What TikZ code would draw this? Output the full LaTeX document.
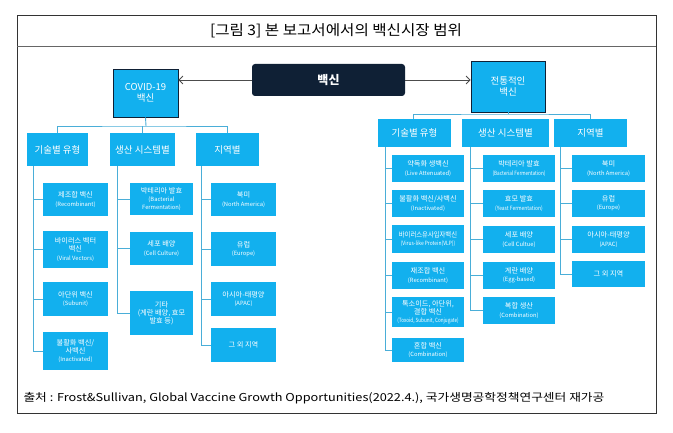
\documentclass[tikz,border=0pt]{standalone}
\usepackage{fontspec}
\setmainfont{Noto Sans CJK KR}
\usetikzlibrary{arrows.meta}
\definecolor{cy}{HTML}{12B0EE}
\definecolor{ln}{HTML}{4AAED8}
\definecolor{navy}{HTML}{0F2035}
\tikzset{
  bx/.style={fill=cy,text=white,align=center,inner sep=0pt,font=\fontsize{7.2}{8.2}\selectfont},
  cat/.style={bx,font=\fontsize{9.5}{11}\selectfont},
  con/.style={draw=ln,line width=0.9pt}
}
\newcommand{\en}[1]{{\fontsize{5.8}{7}\selectfont #1}}
\newcommand{\bxx}[7]{\node[#6,minimum width={(#4-#2)*1pt},minimum height={(#5-#3)*1pt}] (#1) at ({(#2+#4)/2},{(#3+#5)/2}) {#7};}
\begin{document}
\begin{tikzpicture}[x=1pt,y=-1pt]
\useasboundingbox (0,0) rectangle (673,433);
\fill[white] (0,0) rectangle (673,433);
\draw[line width=1pt,draw=black!80] (17,16) rectangle (656,413);
\draw[line width=0.8pt,draw=black!60] (17,46) -- (656,46);
\node[font=\fontsize{12}{14}\selectfont] (title) at (336,31) {\scalebox{1.3}[1.2]{[그림 3] 본 보고서에서의 백신시장 범위}};
\node[anchor=west,font=\fontsize{9.5}{11}\selectfont] (src) at (20,398) {\scalebox{1.34}[1.15]{출처 : Frost\&Sullivan, Global Vaccine Growth Opportunities(2022.4.), 국가생명공학정책연구센터 재가공}};

\node[fill=navy,rounded corners=3pt,text=white,minimum width=153pt,minimum height=32pt,font=\bfseries\fontsize{12}{14}\selectfont] (vac) at (328.5,80) {백신};
\bxx{cov}{113}{69}{178}{117}{bx,draw=navy,line width=0.8pt,font=\fontsize{9.5}{11.5}\selectfont}{COVID-19\\백신}
\bxx{tra}{471}{61}{545}{112}{bx,draw=navy,line width=0.8pt,font=\fontsize{9.5}{11.5}\selectfont}{전통적인\\백신}
\draw[-{Straight Barb[length=4pt]},draw=black!70,line width=0.8pt] (vac.west|-0,80) -- (cov.east|-0,80);
\draw[-{Straight Barb[length=4pt]},draw=black!70,line width=0.8pt] (vac.east|-0,80) -- (tra.west|-0,80);

\bxx{c1}{27}{133}{88}{166}{cat}{기술별 유형}
\bxx{c2}{110}{133}{175}{166}{cat}{생산 시스템별}
\bxx{c3}{196}{133}{259}{166}{cat}{지역별}
\draw[con] (cov.south) -- (146,126);
\draw[con] (c1.north) |- (146,126) -| (c3.north);
\draw[con] (c2.north) -- (c2.north|-0,126);

\bxx{a1}{43}{183}{108}{216}{bx}{제조합 백신\\\en{(Recombinant)}}
\bxx{a2}{43}{231}{108}{268}{bx}{바이러스 벡터\\백신\\\en{(Viral Vectors)}}
\bxx{a3}{43}{282}{108}{316}{bx}{아단위 백신\\\en{(Subunit)}}
\bxx{a4}{43}{332}{108}{370}{bx}{불활화 백신/\\사백신\\\en{(Inactivated)}}
\foreach \n in {a1,a2,a3,a4} \draw[con] (33,166) |- (\n.west);

\bxx{b1}{130}{183}{193}{215}{bx}{박테리아 발효\\\en{(Bacterial}\\\en{Fermentation)}}
\bxx{b2}{130}{232}{193}{265}{bx}{세포 배양\\\en{(Cell Culture)}}
\bxx{b3}{130}{291}{193}{335}{bx}{기타\\(계란 배양, 효모\\발효 등)}
\foreach \n in {b1,b2,b3} \draw[con] (117,166) |- (\n.west);

\bxx{d1}{211}{183}{276}{216}{bx}{북미\\\en{(North America)}}
\bxx{d2}{211}{232}{276}{266}{bx}{유럽\\\en{(Europe)}}
\bxx{d3}{211}{282}{276}{316}{bx}{아시아-태평양\\\en{(APAC)}}
\bxx{d4}{211}{328}{276}{362}{bx}{그 외 지역}
\foreach \n in {d1,d2,d3,d4} \draw[con] (201,166) |- (\n.west);

\bxx{t1}{378}{119}{451}{147}{cat}{기술별 유형}
\bxx{t2}{462}{119}{549}{147}{cat}{생산 시스템별}
\bxx{t3}{554}{119}{627}{147}{cat}{지역별}
\draw[con] (tra.south) -- (508,114);
\draw[con] (413,119) |- (508,114) -| (590,119);

\bxx{e1}{392}{155}{464}{182}{bx}{약독화 생백신\\\en{(Live Attenuated)}}
\bxx{e2}{392}{190}{464}{217}{bx}{불활화 백신/사백신\\\en{(Inactivated)}}
\bxx{e3}{392}{225}{464}{253}{bx}{\scalebox{0.88}[1]{바이러스유사입자백신}\\\en{\scalebox{0.85}[1]{(Virus-like Protein(VLP))}}}
\bxx{e4}{392}{262}{464}{289}{bx}{재조합 백신\\\en{(Recombinant)}}
\bxx{e5}{392}{297}{464}{327}{bx}{톡소이드, 아단위,\\결합 백신\\\en{\scalebox{0.8}[1]{(Toxoid, Subunit, Conjugate)}}}
\bxx{e6}{392}{338}{464}{362}{bx}{혼합 백신\\\en{(Combination)}}
\foreach \n in {e1,e2,e3,e4,e5,e6} \draw[con] (385,147) |- (\n.west);

\bxx{f1}{483}{155}{555}{182}{bx}{박테리아 발효\\\en{\scalebox{0.8}[1]{(Bacterial Fermentation)}}}
\bxx{f2}{483}{190}{555}{217}{bx}{효모 발효\\\en{\scalebox{0.85}[1]{(Yeast Fermentation)}}}
\bxx{f3}{483}{226}{555}{253}{bx}{세포 배양\\\en{(Cell Cultue)}}
\bxx{f4}{483}{262}{555}{289}{bx}{계란 배양\\\en{(Egg-based)}}
\bxx{f5}{483}{297}{555}{324}{bx}{복합 생산\\\en{(Combination)}}
\foreach \n in {f1,f2,f3,f4,f5} \draw[con] (470,147) |- (\n.west);

\bxx{g1}{572}{155}{645}{182}{bx}{북미\\\en{(North America)}}
\bxx{g2}{572}{190}{645}{217}{bx}{유럽\\\en{(Europe)}}
\bxx{g3}{572}{226}{645}{253}{bx}{아시아-태평양\\\en{(APAC)}}
\bxx{g4}{572}{261}{645}{287}{bx}{그 외 지역}
\foreach \n in {g1,g2,g3,g4} \draw[con] (560,147) |- (\n.west);
\end{tikzpicture}
\end{document}
